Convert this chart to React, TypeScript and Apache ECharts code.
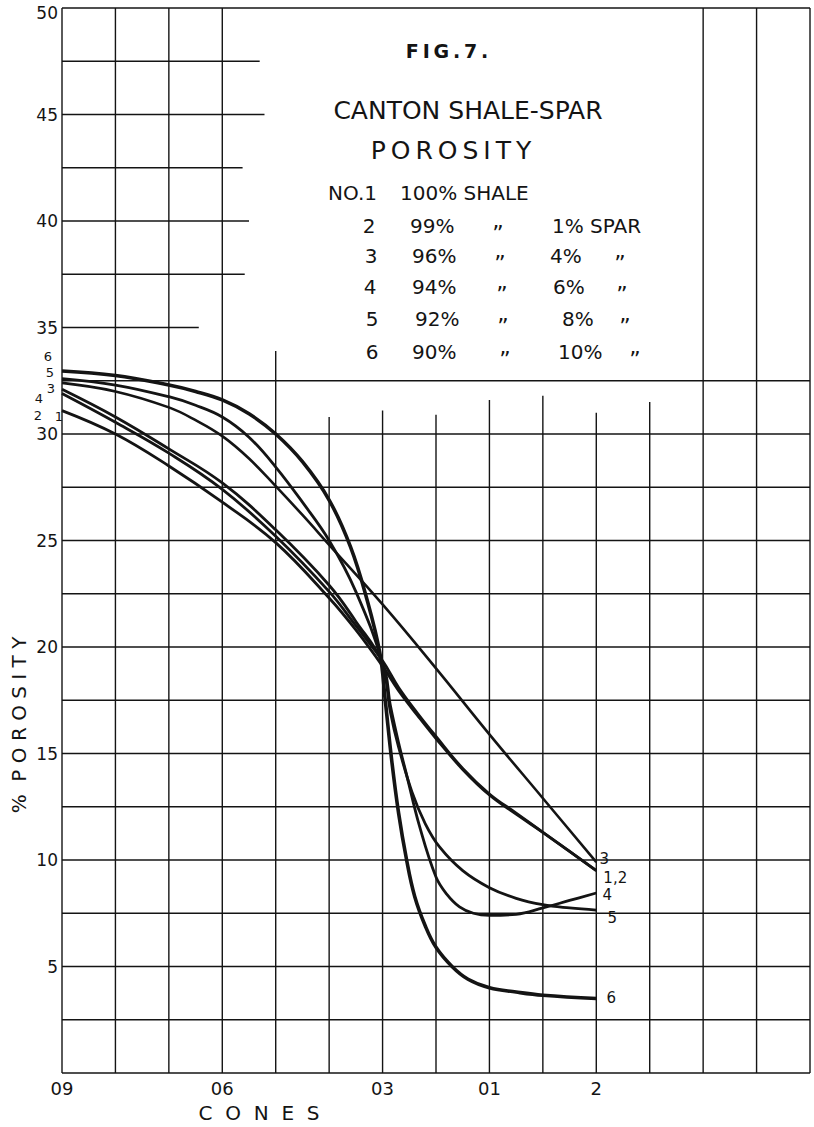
import React, { useEffect, useRef } from 'react';
import * as echarts from 'echarts';

// ---- axis ticks (x = cone index: 09,08,07,06,05,04,03,02,01,1,2,3,4,5,6) ----
const xTickPositions = [0, 3, 6, 8, 10];
const xTickLabels = ['09', '06', '03', '01', '2'];
const yTickValues = [5, 10, 15, 20, 25, 30, 35, 40, 45, 50];

// ---- graph-paper grid ----
const hGridValues = [0, 2.5, 5, 7.5, 10, 12.5, 15, 17.5, 20, 22.5, 25, 27.5, 30, 32.5, 35, 37.5, 40, 42.5, 45, 47.5, 50];
const hGridEnds = [14, 14, 14, 14, 14, 14, 14, 14, 14, 14, 14, 14, 14, 14, 2.56, 3.42, 3.5, 3.38, 3.79, 3.7, 14];
const vGridPositions = [0, 1, 2, 3, 4, 5, 6, 7, 8, 9, 10, 11, 12, 13, 14];
const vGridTops = [50, 50, 50, 50, 33.9, 30.8, 31.1, 30.9, 31.6, 31.8, 31.0, 31.5, 50, 50, 50];

// ---- porosity curves [cone index, % porosity] ----
const curve1 = [[0, 31.1], [1, 30.0], [2, 28.5], [3, 26.8], [4, 24.9], [5, 22.3], [5.5, 20.8], [6, 19.1], [6.3, 17.95], [6.65, 16.8], [7, 15.7], [7.5, 14.25], [8, 13.05], [8.5, 12.15], [9, 11.3], [9.5, 10.4], [10, 9.5]];
const curve2 = [[0, 31.9], [1, 30.55], [2, 29.1], [3, 27.4], [4, 25.2], [5, 22.6], [5.5, 21.0], [6, 19.35], [6.3, 18.1], [6.65, 16.9], [7, 15.8], [7.5, 14.3], [8, 13.1], [8.5, 12.2], [9, 11.3], [9.5, 10.4], [10, 9.5]];
const curve3 = [[0, 32.4], [1, 32.0], [2, 31.25], [2.5, 30.65], [3, 29.9], [3.5, 28.85], [4, 27.55], [4.5, 26.2], [5, 24.8], [6, 22.0], [7, 19.0], [8, 15.9], [9, 12.9], [10, 9.9]];
const curve4 = [[0, 32.1], [1, 30.8], [2, 29.3], [3, 27.7], [4, 25.5], [5, 22.9], [5.5, 21.2], [6, 19.25], [6.15, 17.2], [6.3, 15.5], [6.45, 14.0], [6.69, 11.6], [7, 9.2], [7.2, 8.4], [7.44, 7.8], [7.7, 7.5], [8, 7.4], [8.5, 7.45], [9, 7.75], [9.5, 8.1], [10, 8.45]];
const curve5 = [[0, 32.6], [1, 32.3], [2, 31.75], [2.5, 31.35], [3, 30.8], [3.5, 29.85], [4, 28.45], [4.5, 26.8], [5, 25.0], [5.5, 22.6], [6, 19.2], [6.15, 16.9], [6.3, 15.3], [6.55, 13.2], [6.8, 11.7], [7.07, 10.6], [7.5, 9.5], [8, 8.7], [8.5, 8.2], [9, 7.9], [9.5, 7.75], [10, 7.65]];
const curve6 = [[0, 32.96], [1, 32.75], [2, 32.3], [2.5, 32.0], [3, 31.6], [3.5, 30.95], [4, 30.0], [4.5, 28.7], [5, 26.9], [5.4, 24.7], [5.7, 22.3], [5.95, 19.7], [6.05, 17.5], [6.17, 14.7], [6.3, 12.2], [6.45, 10.0], [6.6, 8.3], [6.8, 6.9], [7, 5.9], [7.3, 5.0], [7.6, 4.4], [8, 4.0], [8.5, 3.8], [9, 3.65], [10, 3.5]];

const curveNames = ['1', '2', '3', '4', '5', '6'];
const curves = [curve1, curve2, curve3, curve4, curve5, curve6];
const startLabelOffsets = [[-3, 6], [-24, 22], [-11, 6], [-23, 9], [-12, -6], [-14, -14]];
const endLabelTexts = ['', '1,2', '3', '4', '5', '6'];
const endLabelOffsets = [[0, 0], [19, 7], [8, -3], [11, 2], [16, 8], [15, 0]];
const curveWidths = [2.8, 2.8, 2.6, 2.8, 2.8, 3.6];

// ---- legend table ----
const legendNumbers = ['2', '3', '4', '5', '6'];
const legendShale = ['99%', '96%', '94%', '92%', '90%'];
const legendSpar = ['1% SPAR', '4%', '6%', '8%', '10%'];

const FONT = "'DejaVu Sans', sans-serif";
const INK = '#141414';

export default function App() {
  const ref = useRef<HTMLDivElement>(null);

  useEffect(() => {
    document.body.style.margin = '0';
    if (!ref.current) return;
    const chart = echarts.init(ref.current, null, { renderer: 'svg' });

    const segments: number[][] = [];
    hGridValues.forEach((v, i) => segments.push([0, v, hGridEnds[i], v]));
    vGridPositions.forEach((x, i) => segments.push([x, 0, x, vGridTops[i]]));

    const curveSeries = curves.map((data, i) => {
      const first = data[0];
      const last = data[data.length - 1];
      const mp: any[] = [
        {
          coord: first,
          label: {
            show: true,
            formatter: curveNames[i],
            position: 'inside',
            offset: startLabelOffsets[i],
            color: INK,
            fontSize: 13,
            fontFamily: FONT,
          },
        },
      ];
      if (endLabelTexts[i]) {
        mp.push({
          coord: last,
          label: {
            show: true,
            formatter: endLabelTexts[i],
            position: 'inside',
            offset: endLabelOffsets[i],
            color: INK,
            fontSize: 15,
            fontFamily: FONT,
          },
        });
      }
      return {
        type: 'line',
        name: 'No. ' + curveNames[i],
        data,
        showSymbol: false,
        symbol: 'none',
        smooth: 0.4,
        z: 5,
        lineStyle: { color: INK, width: curveWidths[i] },
        markPoint: {
          symbol: 'circle',
          symbolSize: 1,
          itemStyle: { color: 'rgba(0,0,0,0)' },
          data: mp,
          silent: true,
        },
      };
    });

    const tableTexts: any[] = [];
    const rowYs = [226, 256, 287, 319, 352];
    const numXs = [369, 371, 370, 372, 372];
    const shaleXs = [410, 412, 412, 415, 412];
    const ditto1Xs = [498, 500, 502, 503, 505];
    const sparXs = [552, 550, 553, 562, 558];
    const ditto2Xs = [0, 620, 622, 625, 635];
    legendNumbers.forEach((n, i) => {
      const base = { fill: INK, fontFamily: FONT, fontSize: 20, textVerticalAlign: 'middle' };
      tableTexts.push({ type: 'text', x: numXs[i], y: rowYs[i], style: { ...base, text: n, textAlign: 'center' } });
      tableTexts.push({ type: 'text', x: shaleXs[i], y: rowYs[i], style: { ...base, text: legendShale[i], textAlign: 'left' } });
      tableTexts.push({ type: 'text', x: ditto1Xs[i], y: rowYs[i] + 7, style: { ...base, text: '\u201D', fontSize: 22, textAlign: 'center' } });
      tableTexts.push({ type: 'text', x: sparXs[i], y: rowYs[i], style: { ...base, text: legendSpar[i], textAlign: 'left' } });
      if (ditto2Xs[i]) {
        tableTexts.push({ type: 'text', x: ditto2Xs[i], y: rowYs[i] + 7, style: { ...base, text: '\u201D', fontSize: 22, textAlign: 'center' } });
      }
    });

    const option: any = {
      animation: false,
      backgroundColor: '#ffffff',
      grid: { left: 62, right: 4, top: 8, bottom: 54, containLabel: false, outerBoundsMode: 'none' },
      xAxis: {
        type: 'value',
        min: 0,
        max: 14,
        interval: 1,
        axisLine: { show: false },
        axisTick: { show: false },
        splitLine: { show: false },
        axisLabel: {
          color: INK,
          fontSize: 18,
          fontFamily: FONT,
          margin: 6,
          formatter: (v: number) => {
            const k = xTickPositions.indexOf(v);
            return k >= 0 ? xTickLabels[k] : '';
          },
        },
      },
      yAxis: {
        type: 'value',
        min: 0,
        max: 50,
        interval: 5,
        axisLine: { show: false },
        axisTick: { show: false },
        splitLine: { show: false },
        axisLabel: {
          color: INK,
          fontSize: 17,
          fontFamily: FONT,
          margin: 4,
          formatter: (v: number) => {
            if (yTickValues.indexOf(v) < 0) return '';
            return v === 50 ? '{top|50}' : String(v);
          },
          rich: {
            top: { color: INK, fontSize: 17, fontFamily: FONT, padding: [10, 0, 0, 0] },
          },
        },
      },
      series: [
        {
          type: 'custom',
          name: 'grid',
          silent: true,
          z: 1,
          clip: false,
          encode: { x: [0, 2], y: [1, 3] },
          data: segments,
          renderItem: (params: any, api: any) => {
            const p1 = api.coord([api.value(0), api.value(1)]);
            const p2 = api.coord([api.value(2), api.value(3)]);
            return {
              type: 'line',
              shape: { x1: p1[0], y1: p1[1], x2: p2[0], y2: p2[1] },
              style: { stroke: INK, lineWidth: 1.4 },
            };
          },
        },
        ...curveSeries,
      ],
      graphic: [
        { type: 'text', x: 447, y: 51, style: { text: 'F\u2009I\u2009G\u2009.\u20097\u2009.', fill: INK, fontFamily: FONT, fontWeight: 'bold', fontSize: 19, textAlign: 'center', textVerticalAlign: 'middle' } },
        { type: 'text', x: 468, y: 110, style: { text: 'CANTON SHALE-SPAR', fill: INK, fontFamily: FONT, fontSize: 25, textAlign: 'center', textVerticalAlign: 'middle' } },
        { type: 'text', x: 451, y: 150, style: { text: 'P\u2009O\u2009R\u2009O\u2009S\u2009I\u2009T\u2009Y', fill: INK, fontFamily: FONT, fontSize: 25, textAlign: 'center', textVerticalAlign: 'middle' } },
        { type: 'text', x: 328, y: 193, style: { text: 'NO.1', fill: INK, fontFamily: FONT, fontSize: 20, textAlign: 'left', textVerticalAlign: 'middle' } },
        { type: 'text', x: 400, y: 193, style: { text: '100% SHALE', fill: INK, fontFamily: FONT, fontSize: 20, textAlign: 'left', textVerticalAlign: 'middle' } },
        ...tableTexts,
        { type: 'text', x: 259, y: 1113, style: { text: 'C  O  N  E  S', fill: INK, fontFamily: FONT, fontSize: 20, textAlign: 'center', textVerticalAlign: 'middle' } },
        { type: 'text', x: 19, y: 725, rotation: Math.PI / 2, style: { text: '%  P O R O S I T Y', fill: INK, fontFamily: FONT, fontSize: 20, textAlign: 'center', textVerticalAlign: 'middle' } },
      ],
    };

    chart.setOption(option);
    return () => chart.dispose();
  }, []);

  return <div ref={ref} style={{ width: 814, height: 1127 }} />;
}
